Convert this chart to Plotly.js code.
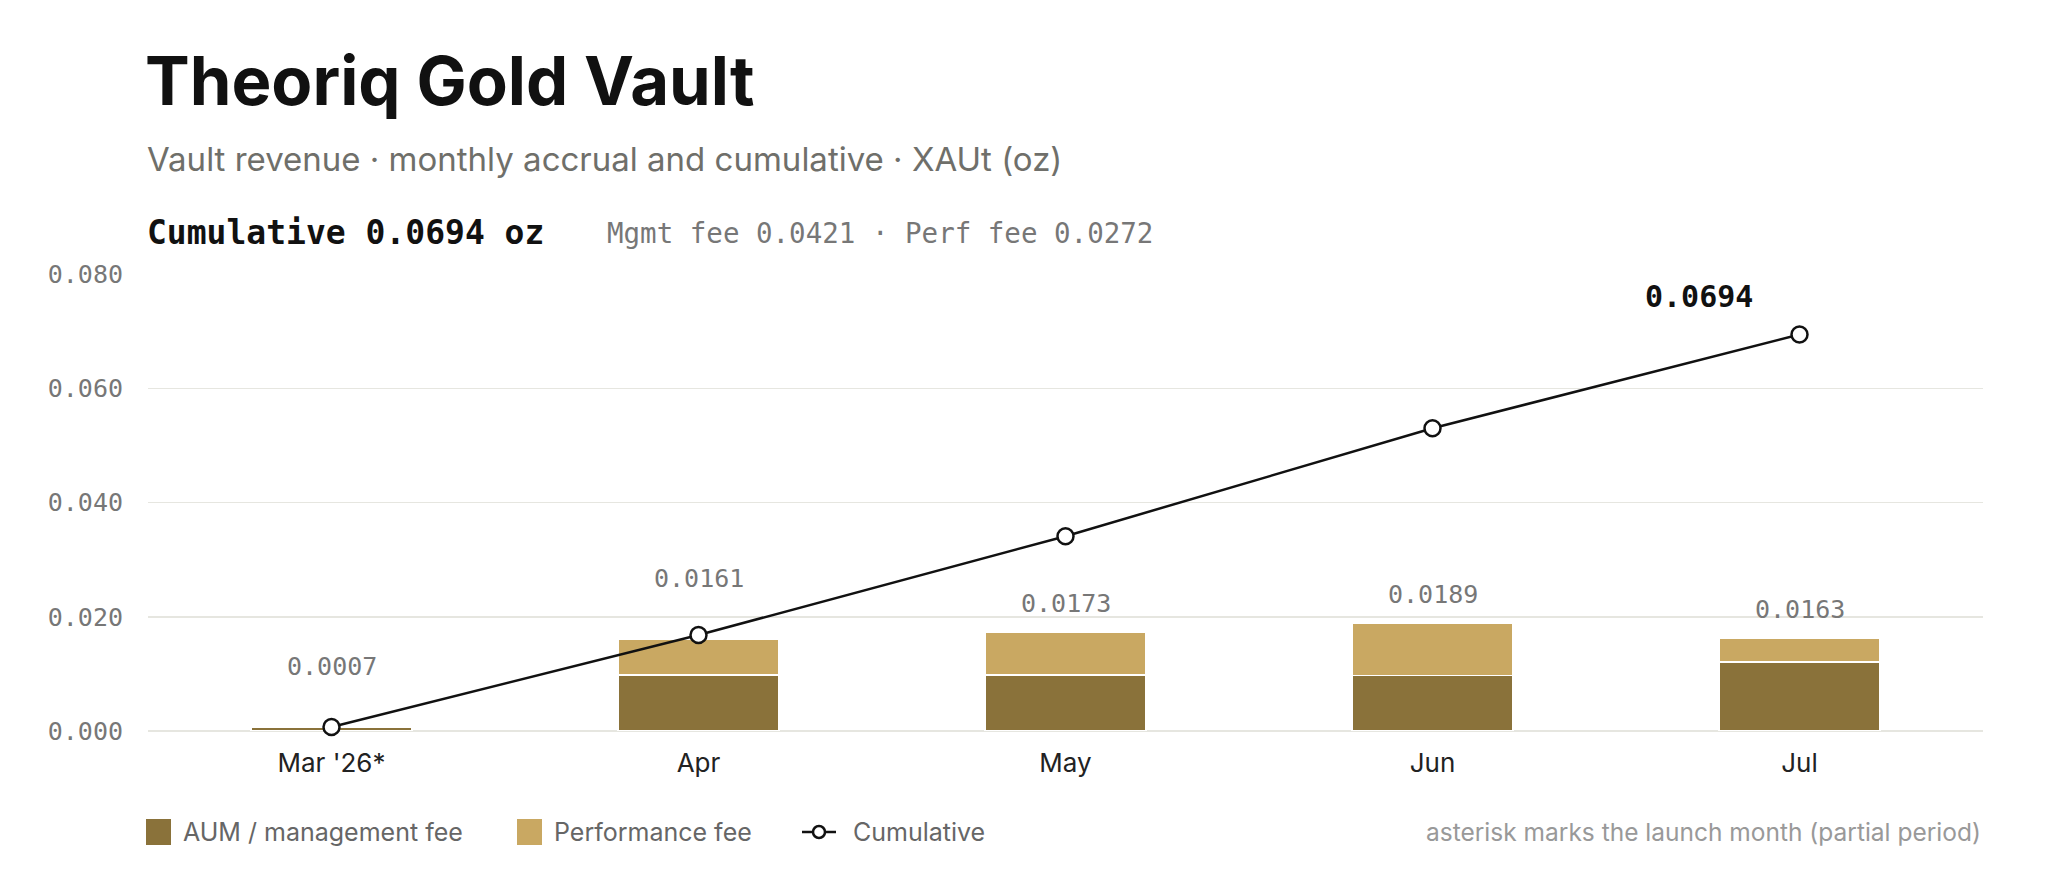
<!DOCTYPE html>
<html>
<head>
<meta charset="utf-8">
<script src="https://cdn.plot.ly/plotly-3.0.1.min.js"></script>
<style>
  html, body { margin: 0; padding: 0; background: #fff; }
  #chart { width: 2048px; height: 878px; }
</style>
</head>
<body>
<div id="chart"></div>
<script>
// monthly accrual, XAUt (oz)
const months = ["Mar '26*", 'Apr', 'May', 'Jun', 'Jul'];
const mgmtFee = [0.0007, 0.0098, 0.0098, 0.0097, 0.0121];
const perfFee = [0.0000, 0.0063, 0.0075, 0.0092, 0.0042];
const totals = [0.0007, 0.0161, 0.0173, 0.0189, 0.0163];
const cumulative = [0.0007, 0.0168, 0.0341, 0.0530, 0.0694];
const yTicks = [0, 0.02, 0.04, 0.06, 0.08];

const MGMT = '#8a723a';
const PERF = '#c9a862';
const SANS = 'Inter, "Noto Sans", sans-serif';
const MONO = '"DejaVu Sans Mono", "Liberation Mono", monospace';

// plot box in pixels
const L = 148, R = 1983, T = 274, B = 731;
const W = R - L, H = B - T;
const px = x => (x - L) / W;
const py = y => (B - y) / H;

const traces = [
    {
        type: 'bar', name: 'AUM / management fee',
        x: months, y: mgmtFee, width: 0.44,
        marker: { color: MGMT, line: { color: '#fff', width: 1.5 } },
        hoverinfo: 'skip'
    },
    {
        type: 'bar', name: 'Performance fee',
        x: months, y: perfFee, width: 0.44,
        marker: { color: PERF, line: { color: '#fff', width: 1.5 } },
        hoverinfo: 'skip'
    },
    {
        type: 'scatter', mode: 'lines+markers', name: 'Cumulative',
        x: months, y: cumulative, cliponaxis: false,
        line: { color: '#111', width: 2.5 },
        marker: { size: 16, color: '#fff', line: { color: '#111', width: 2.5 } },
        hoverinfo: 'skip'
    }
];

const annotations = [];

// monthly totals above the bars, lifted where the line would cross them
totals.forEach((v, i) => {
    const near = Math.abs(cumulative[i] - v) < 0.002;
    annotations.push({
        x: months[i], y: v, xref: 'x', yref: 'y',
        text: v.toFixed(4), showarrow: false,
        yanchor: 'bottom', yshift: near ? 44 : 12,
        font: { family: MONO, size: 25, color: '#777' }
    });
});

const last = cumulative.length - 1;
annotations.push({
    x: months[last], y: cumulative[last], xref: 'x', yref: 'y',
    text: '<b>' + cumulative[last].toFixed(4) + '</b>', showarrow: false,
    xanchor: 'right', yanchor: 'bottom', xshift: -45, yshift: 19,
    font: { family: MONO, size: 30, color: '#111' }
});

const mgmtSum = mgmtFee.reduce((a, b) => a + b, 0);
const perfSum = perfFee.reduce((a, b) => a + b, 0);

// header texts
annotations.push(
    {
        xref: 'paper', yref: 'paper', x: px(143), y: py(80),
        xanchor: 'left', yanchor: 'middle', showarrow: false,
        text: '<b>Theoriq Gold Vault</b>',
        font: { family: SANS, size: 67, color: '#111' }
    },
    {
        xref: 'paper', yref: 'paper', x: px(145), y: py(159),
        xanchor: 'left', yanchor: 'middle', showarrow: false,
        text: 'Vault revenue · monthly accrual and cumulative · XAUt (oz)',
        font: { family: SANS, size: 33, color: '#6f6f6a' }
    },
    {
        xref: 'paper', yref: 'paper', x: px(145), y: py(232),
        xanchor: 'left', yanchor: 'middle', showarrow: false,
        text: '<b>Cumulative ' + cumulative[last].toFixed(4) + ' oz</b>',
        font: { family: MONO, size: 33, color: '#111' }
    },
    {
        xref: 'paper', yref: 'paper', x: px(605), y: py(233),
        xanchor: 'left', yanchor: 'middle', showarrow: false,
        text: 'Mgmt fee ' + mgmtSum.toFixed(4) + ' · Perf fee ' + perfSum.toFixed(4),
        font: { family: MONO, size: 27.5, color: '#777' }
    }
);

// legend row and footnote
const legY = 832;
const legendItems = [
    { label: 'AUM / management fee', textX: 181 },
    { label: 'Performance fee', textX: 552 },
    { label: 'Cumulative', textX: 851 }
];
legendItems.forEach(it => annotations.push({
    xref: 'paper', yref: 'paper', x: px(it.textX), y: py(legY),
    xanchor: 'left', yanchor: 'middle', showarrow: false,
    text: it.label, font: { family: SANS, size: 25, color: '#666' }
}));
annotations.push({
    xref: 'paper', yref: 'paper', x: 1, y: py(legY),
    xanchor: 'right', yanchor: 'middle', showarrow: false,
    text: 'asterisk marks the launch month (partial period)',
    font: { family: SANS, size: 24.5, color: '#999' }
});

const shapes = [
    { type: 'rect', xref: 'paper', yref: 'paper', x0: px(146), x1: px(171), y0: py(845), y1: py(819),
      fillcolor: MGMT, line: { width: 0 } },
    { type: 'rect', xref: 'paper', yref: 'paper', x0: px(517), x1: px(542), y0: py(845), y1: py(819),
      fillcolor: PERF, line: { width: 0 } },
    { type: 'line', xref: 'paper', yref: 'paper', x0: px(802), x1: px(836), y0: py(legY), y1: py(legY),
      line: { color: '#111', width: 2.5 } },
    { type: 'circle', xref: 'paper', yref: 'paper', x0: px(813), x1: px(825), y0: py(legY + 6), y1: py(legY - 6),
      fillcolor: '#fff', line: { color: '#111', width: 2.5 } }
];

const layout = {
    width: 2048, height: 878,
    margin: { l: L, r: 2048 - R, t: T, b: 878 - B, pad: 0 },
    paper_bgcolor: '#fff', plot_bgcolor: '#fff',
    barmode: 'stack',
    showlegend: false,
    xaxis: {
        type: 'category', range: [-0.5, 4.5],
        showgrid: false, showline: false, zeroline: false,
        ticks: '', ticklabelstandoff: 14,
        tickfont: { family: SANS, size: 26, color: '#222' },
        fixedrange: true
    },
    yaxis: {
        range: [0, 0.08], tickvals: yTicks,
        ticktext: yTicks.map(v => v.toFixed(3)),
        showgrid: true, gridcolor: '#e6e6e0', gridwidth: 1.5,
        zeroline: true, zerolinecolor: '#e6e6e0', zerolinewidth: 1.5,
        showline: false, ticks: '', ticklabelstandoff: 24,
        tickfont: { family: MONO, size: 25, color: '#777' },
        fixedrange: true
    },
    annotations: annotations,
    shapes: shapes
};

Plotly.newPlot('chart', traces, layout, { displayModeBar: false, staticPlot: true });
</script>
</body>
</html>
